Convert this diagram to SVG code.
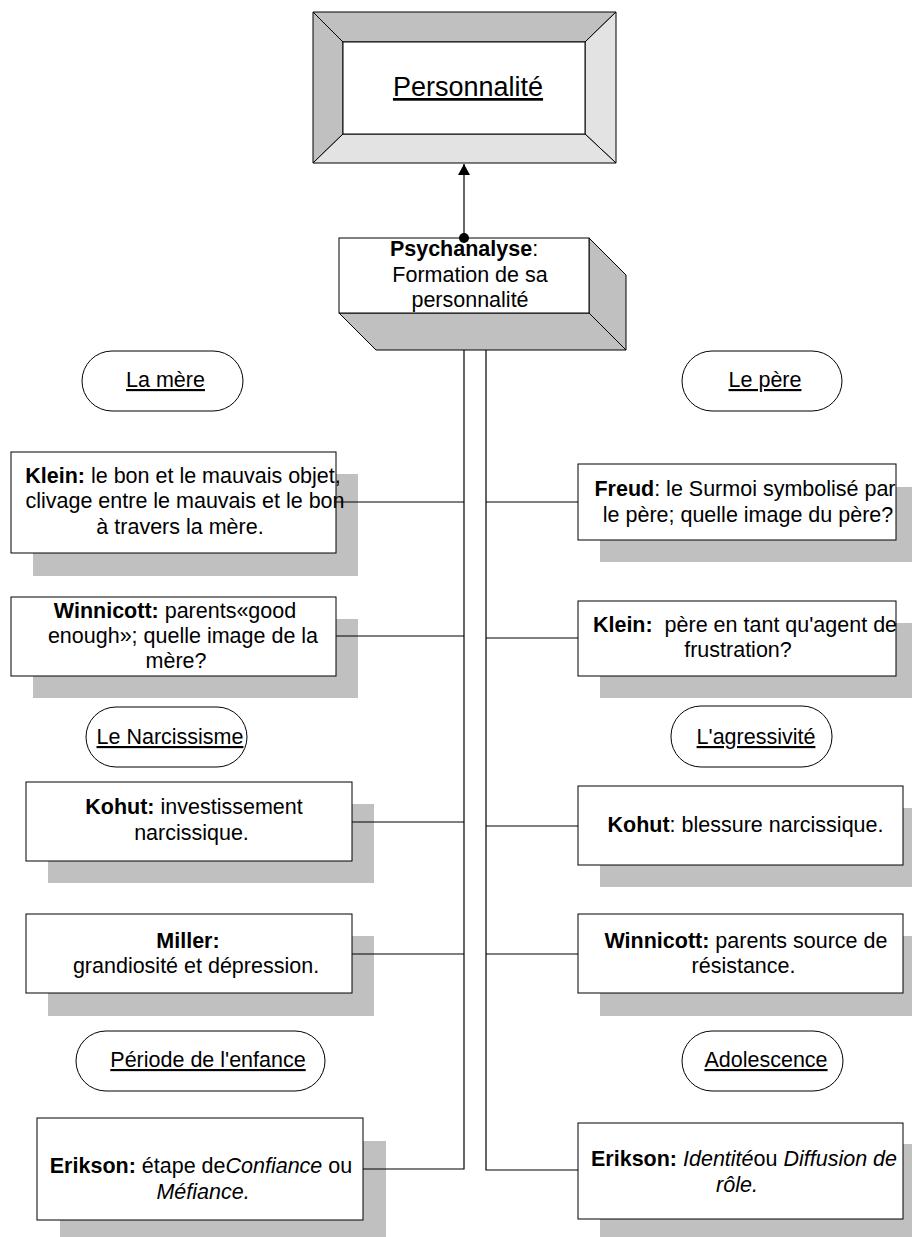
<svg xmlns="http://www.w3.org/2000/svg" width="912" height="1237" viewBox="0 0 912 1237">
<defs>
<marker id="arr" markerWidth="12" markerHeight="12" refX="11" refY="6" orient="auto" markerUnits="userSpaceOnUse">
<path d="M0,0 L11,6 L0,12 Z" fill="#000"/>
</marker>
<style>
text{font-family:"Liberation Sans",Arial,sans-serif;font-size:21.5px;fill:#000;text-anchor:middle}
.b{font-weight:bold}
.i{font-style:italic}
.u{text-decoration:underline}
.box{fill:#fff;stroke:#000;stroke-width:1}
.sh{fill:#c0c0c0;stroke:none}
.pill{fill:#fff;stroke:#000;stroke-width:1}
.ln{fill:none;stroke:#000;stroke-width:1.2}
.bev{stroke:#000;stroke-width:1}
</style>
</defs>
<rect width="912" height="1237" fill="#fff"/>

<g id="personnalite">
<polygon class="bev" points="313,12 616,12 585,42 343,42" fill="#c0c0c0"/>
<polygon class="bev" points="313,12 343,42 343,134 313,163" fill="#c0c0c0"/>
<polygon class="bev" points="616,12 616,163 585,134 585,42" fill="#e3e3e3"/>
<polygon class="bev" points="313,163 616,163 585,134 343,134" fill="#e3e3e3"/>
<rect class="box" x="343" y="42" width="242" height="92"/>
<text class="u" x="468" y="96" style="font-size:27px">Personnalité</text>
</g>

<g id="psychanalyse">
<polygon class="bev" points="589,238 626,275 626,350 589,313" fill="#c0c0c0"/>
<polygon class="bev" points="339,313 589,313 626,350 376,350" fill="#c0c0c0"/>
<rect class="box" x="339" y="238" width="250" height="75"/>
<text x="464" y="256"><tspan class="b">Psychanalyse</tspan>:</text>
<text x="470" y="282">Formation de sa</text>
<text x="470" y="307">personnalité</text>
</g>

<g id="la-mere">
<rect class="pill" x="82" y="351" width="161" height="60" rx="30"/>
<text class="u" x="165.5" y="387">La mère</text>
</g>
<g id="le-pere">
<rect class="pill" x="682" y="351" width="160" height="60" rx="30"/>
<text class="u" x="765" y="387">Le père</text>
</g>
<g id="narcissisme">
<rect class="pill" x="86" y="707" width="161" height="60" rx="30"/>
<text class="u" x="170" y="744">Le Narcissisme</text>
</g>
<g id="agressivite">
<rect class="pill" x="671" y="706" width="161" height="61" rx="30"/>
<text class="u" x="756" y="744">L'agressivité</text>
</g>
<g id="enfance">
<rect class="pill" x="76" y="1031" width="249" height="60" rx="30"/>
<text class="u" x="208" y="1067">Période de l'enfance</text>
</g>
<g id="adolescence">
<rect class="pill" x="682" y="1031" width="161" height="60" rx="30"/>
<text class="u" x="766" y="1067">Adolescence</text>
</g>

<g id="klein-mere">
<rect class="sh" x="33" y="474" width="325" height="102"/>
<rect class="box" x="11" y="452" width="325" height="101"/>
<text x="183" y="483"><tspan class="b">Klein:</tspan> le bon et le mauvais objet,</text>
<text x="185" y="508">clivage entre le mauvais et le bon</text>
<text x="180" y="534">à travers la mère.</text>
</g>
<g id="winnicott-mere">
<rect class="sh" x="33" y="619" width="325" height="79"/>
<rect class="box" x="11" y="597" width="325" height="79"/>
<text x="175" y="618"><tspan class="b">Winnicott:</tspan> parents«good</text>
<text x="183" y="643">enough»; quelle image de la</text>
<text x="176" y="668">mère?</text>
</g>
<g id="kohut-narc">
<rect class="sh" x="48" y="804" width="326" height="79"/>
<rect class="box" x="26" y="782" width="326" height="79"/>
<text x="194" y="814"><tspan class="b">Kohut:</tspan> investissement</text>
<text x="191.5" y="840">narcissique.</text>
</g>
<g id="miller">
<rect class="sh" x="48" y="936" width="326" height="80"/>
<rect class="box" x="26" y="914" width="326" height="79"/>
<text class="b" x="188" y="948">Miller:</text>
<text x="196" y="973">grandiosité et dépression.</text>
</g>
<g id="erikson-enfance">
<rect class="sh" x="60" y="1141" width="326" height="100"/>
<rect class="box" x="37" y="1118" width="326" height="102"/>
<text x="201" y="1173"><tspan class="b">Erikson:</tspan> étape de<tspan class="i">Confiance</tspan> ou</text>
<text class="i" x="203" y="1199">Méfiance.</text>
</g>

<g id="freud">
<rect class="sh" x="600" y="487" width="320" height="75"/>
<rect class="box" x="578" y="464" width="318" height="76"/>
<text x="745" y="496"><tspan class="b">Freud</tspan>: le Surmoi symbolisé par</text>
<text x="748" y="522">le père; quelle image du père?</text>
</g>
<g id="klein-pere">
<rect class="sh" x="600" y="623" width="320" height="75"/>
<rect class="box" x="578" y="601" width="318" height="75"/>
<text x="745" y="632" xml:space="preserve"><tspan class="b">Klein:</tspan>  père en tant qu'agent de</text>
<text x="738" y="657">frustration?</text>
</g>
<g id="kohut-agr">
<rect class="sh" x="600" y="808" width="325" height="79"/>
<rect class="box" x="578" y="786" width="325" height="79"/>
<text x="745.5" y="832"><tspan class="b">Kohut</tspan>: blessure narcissique.</text>
</g>
<g id="winnicott-agr">
<rect class="sh" x="600" y="936" width="325" height="80"/>
<rect class="box" x="578" y="914" width="325" height="79"/>
<text x="746" y="948"><tspan class="b">Winnicott:</tspan> parents source de</text>
<text x="743.5" y="973">résistance.</text>
</g>
<g id="erikson-ado">
<rect class="sh" x="600" y="1144" width="325" height="100"/>
<rect class="box" x="578" y="1123" width="325" height="96"/>
<text x="744" y="1166"><tspan class="b">Erikson:</tspan> <tspan class="i">Identité</tspan>ou <tspan class="i">Diffusion de</tspan></text>
<text class="i" x="737" y="1192">rôle.</text>
</g>

<g id="connectors">
<line class="ln" x1="464" y1="238" x2="464" y2="164" marker-end="url(#arr)"/>
<circle cx="464" cy="238" r="5" fill="#000"/>
<polyline class="ln" points="464,350 464,1169 363,1169"/>
<polyline class="ln" points="486,350 486,1170 578,1170"/>
<line class="ln" x1="336" y1="502" x2="464" y2="502"/>
<line class="ln" x1="336" y1="636" x2="464" y2="636"/>
<line class="ln" x1="352" y1="822" x2="464" y2="822"/>
<line class="ln" x1="352" y1="954" x2="464" y2="954"/>
<line class="ln" x1="486" y1="502" x2="578" y2="502"/>
<line class="ln" x1="486" y1="638" x2="578" y2="638"/>
<line class="ln" x1="486" y1="826" x2="578" y2="826"/>
<line class="ln" x1="486" y1="954" x2="578" y2="954"/>
</g>
</svg>
